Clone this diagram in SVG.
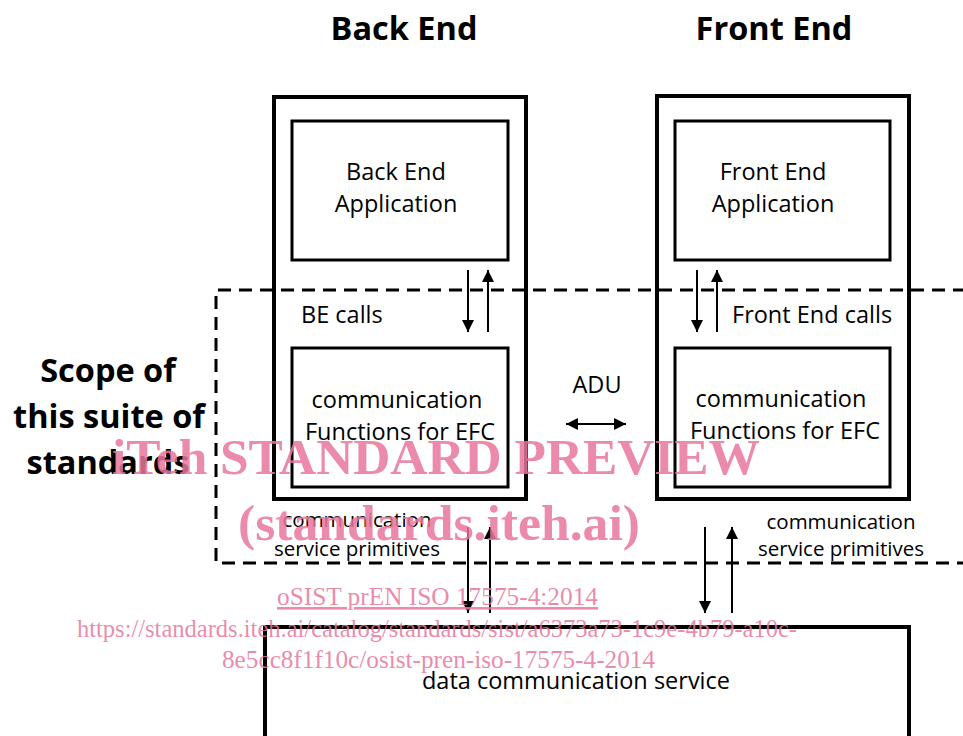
<svg xmlns="http://www.w3.org/2000/svg" width="963" height="736" viewBox="0 0 963 736">
<defs>
<style>
.box{fill:none;stroke:#000;stroke-width:4}
.inner{fill:none;stroke:#000;stroke-width:3}
.dash{fill:none;stroke:#000;stroke-width:3;stroke-dasharray:13 8}
.ln{stroke:#000;stroke-width:2;fill:none}
.t{font-family:"Open Sans","Liberation Sans",sans-serif;font-size:23.5px;fill:#000}
.s{font-family:"Open Sans","Liberation Sans",sans-serif;font-size:20.5px;fill:#000}
.b{font-family:"Open Sans","Liberation Sans",sans-serif;font-size:32.5px;font-weight:bold;fill:#000}
.wm{font-family:"Liberation Serif","Times New Roman",serif;fill:#e8769b;fill-opacity:0.85}
</style>
<marker id="ah" viewBox="0 0 10 10" refX="10" refY="5" markerWidth="12" markerHeight="12" markerUnits="userSpaceOnUse" orient="auto-start-reverse">
<path d="M0,0 L10,5 L0,10 z" fill="#000"/>
</marker>
</defs>
<rect width="963" height="736" fill="#fff"/>
<text class="b" x="404" y="40" text-anchor="middle">Back End</text>
<text class="b" x="774" y="40" text-anchor="middle">Front End</text>
<g id="scope">
<path class="dash" d="M966,290 H216 V563 H966"/>
<text class="b" x="108" y="382" text-anchor="middle">Scope of</text>
<text class="b" x="109" y="428" text-anchor="middle">this suite of</text>
<text class="b" x="108" y="474" text-anchor="middle">standards</text>
</g>
<g id="backend">
<rect class="box" x="274" y="97" width="252" height="402"/>
</g>
<g id="be-app">
<rect class="inner" x="292" y="121" width="216" height="139"/>
<text class="t" x="396" y="180" text-anchor="middle">Back End</text>
<text class="t" x="396" y="212" text-anchor="middle">Application</text>
</g>
<g id="be-comm">
<rect class="inner" x="292" y="348" width="216" height="139"/>
<text class="t" x="397" y="408" text-anchor="middle">communication</text>
<text class="t" x="400" y="440" text-anchor="middle">Functions for EFC</text>
</g>
<g id="frontend">
<rect class="box" x="657" y="96" width="252" height="403"/>
</g>
<g id="fe-app">
<rect class="inner" x="675" y="121" width="215" height="139"/>
<text class="t" x="773" y="180" text-anchor="middle">Front End</text>
<text class="t" x="773" y="212" text-anchor="middle">Application</text>
</g>
<g id="fe-comm">
<rect class="inner" x="675" y="348" width="215" height="139"/>
<text class="t" x="781" y="407" text-anchor="middle">communication</text>
<text class="t" x="785" y="439" text-anchor="middle">Functions for EFC</text>
</g>
<g id="dcs">
<path class="box" d="M265,740 V627 H909 V740"/>
<text class="t" x="576" y="689" text-anchor="middle">data communication service</text>
</g>
<g id="connectors">
<line class="ln" x1="468" y1="270" x2="468" y2="332" marker-end="url(#ah)"/>
<line class="ln" x1="488" y1="332" x2="488" y2="270" marker-end="url(#ah)"/>
<line class="ln" x1="697" y1="270" x2="697" y2="332" marker-end="url(#ah)"/>
<line class="ln" x1="717" y1="332" x2="717" y2="270" marker-end="url(#ah)"/>
<line class="ln" x1="468" y1="527" x2="468" y2="613" marker-end="url(#ah)"/>
<line class="ln" x1="490" y1="613" x2="490" y2="527" marker-end="url(#ah)"/>
<line class="ln" x1="705" y1="527" x2="705" y2="613" marker-end="url(#ah)"/>
<line class="ln" x1="732" y1="613" x2="732" y2="527" marker-end="url(#ah)"/>
<line class="ln" x1="566" y1="424" x2="626" y2="424" marker-start="url(#ah)" marker-end="url(#ah)"/>
</g>
<g id="labels">
<text class="t" x="301" y="323">BE calls</text>
<text class="t" x="732" y="323">Front End calls</text>
<text class="t" x="597" y="393" text-anchor="middle">ADU</text>
<text class="s" x="357" y="527" text-anchor="middle">communication</text>
<text class="s" x="357" y="556" text-anchor="middle">service primitives</text>
<text class="s" x="841" y="529" text-anchor="middle">communication</text>
<text class="s" x="841" y="556" text-anchor="middle">service primitives</text>
</g>
<g id="watermark">
<text class="wm" x="112" y="474" font-size="50" font-weight="bold" textLength="648" lengthAdjust="spacingAndGlyphs">iTeh STANDARD PREVIEW</text>
<text class="wm" x="238" y="540" font-size="50" font-weight="bold" textLength="402" lengthAdjust="spacingAndGlyphs">(standards.iteh.ai)</text>
<text class="wm" x="277" y="605" font-size="26" text-decoration="underline" textLength="321" lengthAdjust="spacingAndGlyphs">oSIST prEN ISO 17575-4:2014</text>
<text class="wm" x="77" y="637" font-size="26" textLength="720" lengthAdjust="spacingAndGlyphs">https://standards.iteh.ai/catalog/standards/sist/a6373a73-1c9e-4b79-a10c-</text>
<text class="wm" x="222" y="668" font-size="26" textLength="433" lengthAdjust="spacingAndGlyphs">8e5cc8f1f10c/osist-pren-iso-17575-4-2014</text>
</g>
</svg>
